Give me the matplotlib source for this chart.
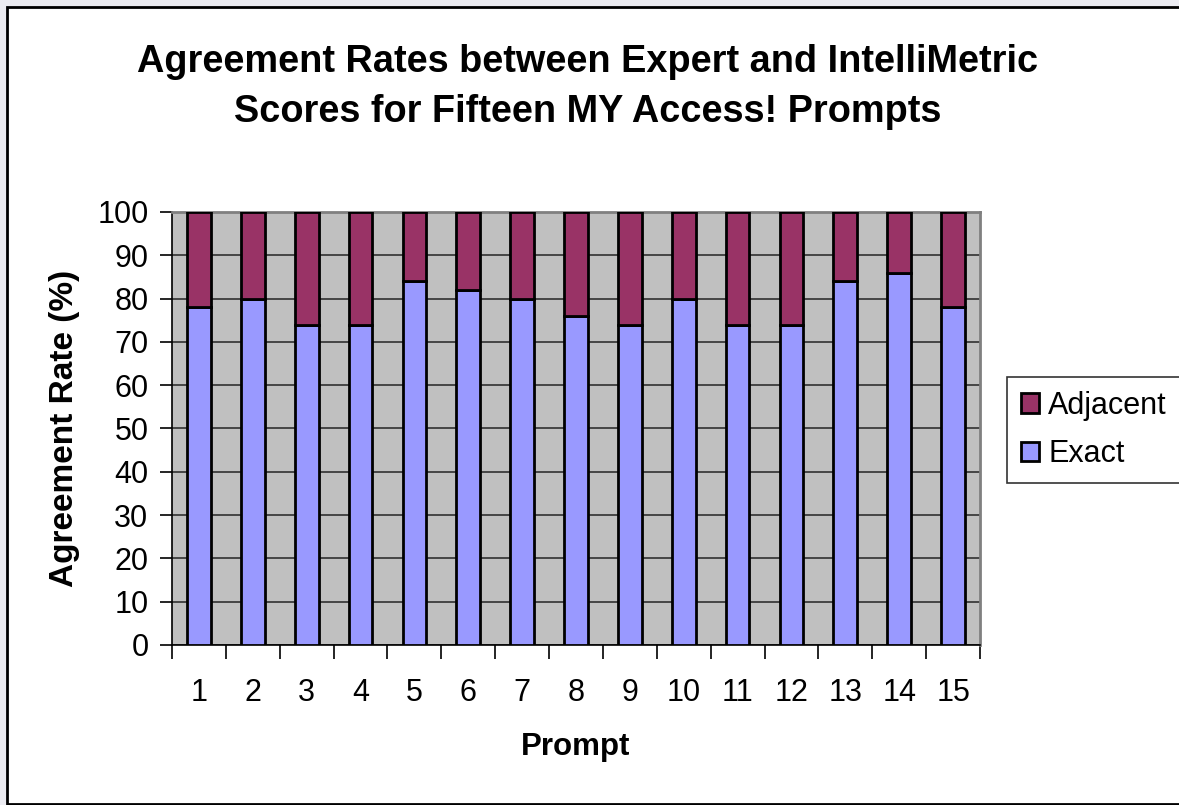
import matplotlib
matplotlib.use("Agg")
import matplotlib.pyplot as plt
from matplotlib.patches import Rectangle
import numpy as np

prompts = [str(i) for i in range(1, 16)]
exact = [78, 80, 74, 74, 84, 82, 80, 76, 74, 80, 74, 74, 84, 86, 78]
adjacent = [100 - e for e in exact]
yticks = list(range(0, 101, 10))

plt.rcParams['font.family'] = ['Liberation Sans', 'DejaVu Sans']

W, H = 1179, 805
fig = plt.figure(figsize=(W / 100, H / 100), dpi=100)
fig.patch.set_facecolor('#ECECF2')

# white chart area
fig.patches.append(Rectangle((7 / W, 1 - 804 / H), (1190 - 7) / W, (804 - 7) / H,
                             transform=fig.transFigure, facecolor='white',
                             edgecolor='black', linewidth=2, zorder=-5))

ax = fig.add_axes([172 / W, 1 - 645 / H, (980 - 172) / W, (645 - 212) / H])
ax.set_facecolor('#C0C0C0')
x = np.arange(len(prompts))
b1 = ax.bar(x, exact, width=0.44, color='#9999FF', edgecolor='black', linewidth=2, label='Exact', zorder=3)
b2 = ax.bar(x, adjacent, width=0.44, bottom=exact, color='#993366', edgecolor='black', linewidth=2, label='Adjacent', zorder=3)

ax.set_xlim(-0.5, len(prompts) - 0.5)
ax.set_ylim(0, 100)
ax.set_yticks(yticks)
ax.yaxis.grid(True, color='#303030', linewidth=1.2, zorder=1)
ax.set_axisbelow(True)
ax.tick_params(axis='y', direction='out', length=9, width=1.2, labelsize=22, pad=8)
ax.set_xticks(x)
ax.set_xticklabels(prompts)
ax.set_xticks(np.arange(-0.5, len(prompts), 1), minor=True)
ax.tick_params(axis='x', which='major', length=0, labelsize=22, pad=24)
ax.tick_params(axis='x', which='minor', direction='out', length=10, width=1.2)
for s in ['top', 'right']:
    ax.spines[s].set_color('#808080')
    ax.spines[s].set_linewidth(2)
for s in ['left', 'bottom']:
    ax.spines[s].set_color('black')
    ax.spines[s].set_linewidth(1.2)

ax.set_ylabel('Agreement Rate (%)', fontsize=24, fontweight='bold', labelpad=12)
ax.set_xlabel('Prompt', fontsize=22.5, fontweight='bold', labelpad=17)

fig.text(588 / W, 1 - 87 / H, 'Agreement Rates between Expert and IntelliMetric\nScores for Fifteen MY Access! Prompts',
         ha='center', va='center', fontsize=27.3, fontweight='bold', linespacing=1.49)

leg = fig.legend(handles=[b2, b1], labels=['Adjacent', 'Exact'], loc='upper left',
                 bbox_to_anchor=(1007 / W, 1 - 377 / H), fontsize=22, frameon=True,
                 fancybox=False, edgecolor='black', handlelength=0.6, handleheight=0.6,
                 handletextpad=0.3, borderpad=0.45, labelspacing=0.6, borderaxespad=0)
leg.get_frame().set_linewidth(1.2)

fig.savefig('out.png', dpi=100, facecolor=fig.get_facecolor())
